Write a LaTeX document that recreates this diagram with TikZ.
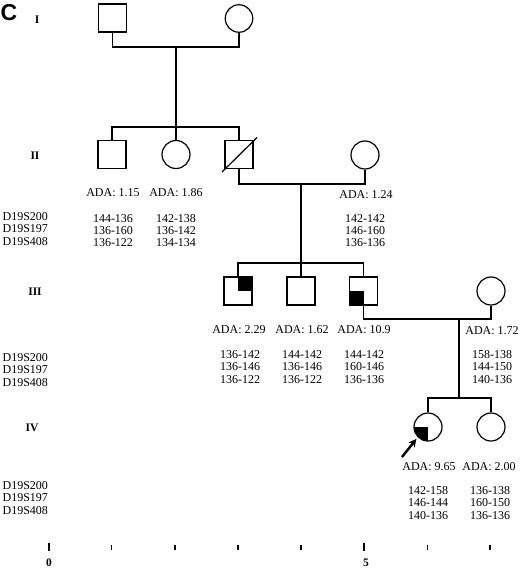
\documentclass[tikz,border=0pt]{standalone}
\usepackage{fontspec}
\setmainfont{Liberation Serif}
\newfontfamily\labelsans{Liberation Sans}
\usetikzlibrary{arrows.meta}
\begin{document}
\begin{tikzpicture}[x=1pt,y=-1pt,line width=1.2pt,
  male/.style={draw,rectangle,minimum size=28pt,inner sep=0pt},
  female/.style={draw,circle,minimum size=27.5pt,inner sep=0pt},
  qur/.style={path picture={\fill (path picture bounding box.center) rectangle (path picture bounding box.north east);}},
  qll/.style={path picture={\fill (path picture bounding box.center) rectangle (path picture bounding box.south west);}},
  txt/.style={font=\fontsize{12}{12.3}\selectfont,inner sep=0pt,align=center},
  mrk/.style={font=\fontsize{12}{12.3}\selectfont,inner sep=0pt,align=left,anchor=west},
  gen/.style={font=\fontsize{11.5}{11.5}\selectfont\bfseries,inner sep=0pt},
  tick/.style={line width=1.5pt},
  scl/.style={font=\fontsize{11.5}{11.5}\selectfont\bfseries,inner sep=0pt}]
\useasboundingbox (0,0) rectangle (520,568);
\node[font=\labelsans\fontsize{23}{23}\selectfont\bfseries,inner sep=0pt] (C) at (9,13) {C};
% generation labels
\node[gen] (gI) at (37,20) {I};
\node[gen] (gII) at (35,156) {II};
\node[gen] (gIII) at (35,292) {III};
\node[gen] (gIV) at (32,428) {IV};
% generation I
\node[male] (I1) at (112.5,18) {};
\node[female] (I2) at (239,18.5) {};
\coordinate (m1) at (176,47);
\coordinate (s2) at (176,127);
\draw (I1.south) |- (m1) -| (I2.south);
\draw (m1) -- (s2);
% generation II
\node[male] (II1) at (112,154.5) {};
\node[female,minimum size=28pt] (II2) at (176,154.5) {};
\node[male] (II3) at (239,154.5) {};
\node[female,minimum size=28pt] (II4) at (365,155) {};
\coordinate (slA) at (222,172);
\coordinate (slB) at (257,137.5);
\draw (slA) -- (slB);
\draw (II1.north) |- (s2) -| (II3.north);
\draw (II2.north) -- (s2);
\coordinate (m2) at (301,184);
\coordinate (s3) at (301,263);
\draw (II3.south) |- (m2) -| (II4.south);
\draw (m2) -- (s3);
\node[txt] (aII1) at (113,193) {ADA: 1.15};
\node[txt] (aII2) at (176,193) {ADA: 1.86};
\node[txt] (aII4) at (366,195) {ADA: 1.24};
\node[mrk] (mkII) at (2,229) {D19S200\\D19S197\\D19S408};
\node[txt] (gII1) at (113,230.5) {144-136\\136-160\\136-122};
\node[txt] (gII2) at (176,230.5) {142-138\\136-142\\134-134};
\node[txt] (gII4) at (365,230.5) {142-142\\146-160\\136-136};
% generation III
\node[male,qur] (III1) at (238,291) {};
\node[male] (III2) at (301,291) {};
\node[male,qll] (III3) at (363.5,291) {};
\node[female,minimum size=28pt] (III4) at (491,291) {};
\draw (III1.north) |- (s3) -| (III3.north);
\draw (III2.north) -- (s3);
\coordinate (m3) at (459,319);
\coordinate (s4) at (459,398);
\draw (III3.south) |- (m3) -| (III4.south);
\draw (m3) -- (s4);
\node[txt] (aIII1) at (239,330) {ADA: 2.29};
\node[txt] (aIII2) at (302,330) {ADA: 1.62};
\node[txt] (aIII3) at (364,330) {ADA: 10.9};
\node[txt] (aIII4) at (492,331) {ADA: 1.72};
\node[mrk] (mkIII) at (2,370) {D19S200\\D19S197\\D19S408};
\node[txt] (gIII1) at (240,367) {136-142\\136-146\\136-122};
\node[txt] (gIII2) at (302,367) {144-142\\136-146\\136-122};
\node[txt] (gIII3) at (364,367) {144-142\\160-146\\136-136};
\node[txt] (gIII4) at (492,367) {158-138\\144-150\\140-136};
% generation IV
\node[female,minimum size=28pt,qll] (IV1) at (428,427) {};
\node[female,minimum size=28pt] (IV2) at (491,427) {};
\draw (IV1.north) |- (s4) -| (IV2.north);
\coordinate (arrT) at (402,457);
\draw[line width=2.4pt,-{Stealth[length=8pt,width=8pt]},shorten >=2pt] (arrT) -- (IV1.225);
\node[txt] (aIV1) at (429,467) {ADA: 9.65};
\node[txt] (aIV2) at (489,467) {ADA: 2.00};
\node[mrk] (mkIV) at (2,498) {D19S200\\D19S197\\D19S408};
\node[txt] (gIV1) at (428,503) {142-158\\146-144\\140-136};
\node[txt] (gIV2) at (490,503) {136-138\\160-150\\136-136};
% scale
\draw[tick] (49,542.5) -- (49,550.5);
\foreach \x in {111.5,175,238,301,427.5,490} \draw[tick] (\x,545) -- (\x,549.5);
\draw[tick] (364,542.5) -- (364,550.5);
\node[scl] (s0) at (49,563) {0};
\node[scl] (s5) at (366,563) {5};
\end{tikzpicture}
\end{document}
